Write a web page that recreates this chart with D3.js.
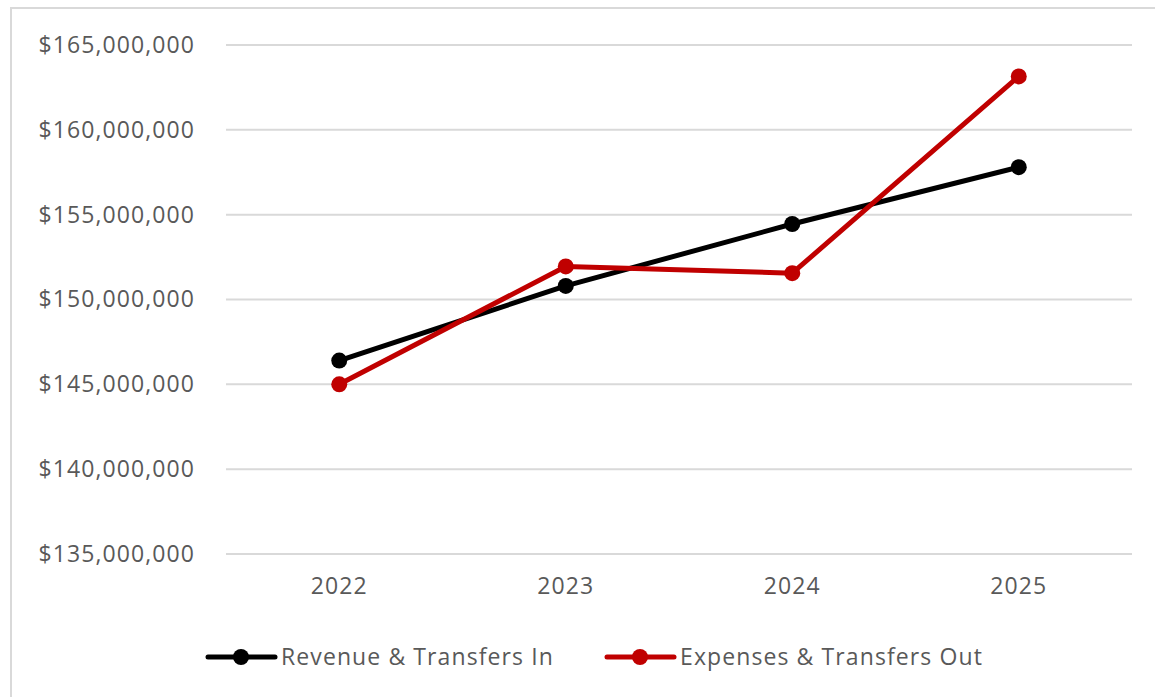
<!DOCTYPE html>
<html>
<head>
<meta charset="utf-8">
<script src="https://cdn.jsdelivr.net/npm/d3@7"></script>
<style>
  body { margin: 0; background: #fff; }
  svg text { font-family: "Open Sans", "Liberation Sans", sans-serif; fill: #595959; letter-spacing: 1.1px; }
</style>
</head>
<body>
<svg id="chart" width="1155" height="697"></svg>
<script>
var years = ["2022", "2023", "2024", "2025"];
var revenue = [146400000, 150800000, 154450000, 157800000];
var expenses = [145000000, 151950000, 151550000, 163150000];
var yTicks = [135000000, 140000000, 145000000, 150000000, 155000000, 160000000, 165000000];
var seriesNames = ["Revenue & Transfers In", "Expenses & Transfers Out"];
var seriesColors = ["#000000", "#c00000"];

var svg = d3.select("#chart");
var width = 1155, height = 697;

// chart frame
svg.append("rect")
  .attr("x", 11).attr("y", 8)
  .attr("width", width + 10).attr("height", height + 10)
  .style("fill", "none").style("stroke", "#d9d9d9").style("stroke-width", 2);

var x = d3.scaleBand().domain(years).range([226, 1132]);
var y = d3.scaleLinear().domain([135000000, 165000000]).range([554, 45]);

var fmt = function (d) { return "$" + d3.format(",")(d); };

// gridlines
svg.append("g").selectAll("line").data(yTicks).enter().append("line")
  .attr("x1", 226).attr("x2", 1132)
  .attr("y1", function (d) { return y(d); })
  .attr("y2", function (d) { return y(d); })
  .style("stroke", "#d9d9d9").style("stroke-width", 2);

// y axis labels
var yAxis = d3.axisLeft(y).tickValues(yTicks).tickFormat(fmt).tickSize(0).tickPadding(0);
var yg = svg.append("g").attr("transform", "translate(195,0)").call(yAxis);
yg.select(".domain").remove();
yg.selectAll("text").style("font-size", "23px").style("fill", "#595959");

// x axis labels
var xAxis = d3.axisBottom(x).tickSize(0).tickPadding(0);
var xg = svg.append("g").attr("transform", "translate(0,578)").call(xAxis);
xg.select(".domain").remove();
xg.selectAll("text").style("font-size", "23px").style("fill", "#595959");

var line = d3.line()
  .x(function (d, i) { return x(years[i]) + x.bandwidth() / 2; })
  .y(function (d) { return y(d); });

[revenue, expenses].forEach(function (vals, si) {
  var g = svg.append("g");
  g.append("path").datum(vals)
    .attr("d", line)
    .style("fill", "none")
    .style("stroke", seriesColors[si])
    .style("stroke-width", 5)
    .style("stroke-linejoin", "round");
  g.selectAll("circle").data(vals).enter().append("circle")
    .attr("cx", function (d, i) { return x(years[i]) + x.bandwidth() / 2; })
    .attr("cy", function (d) { return y(d); })
    .attr("r", 8)
    .style("fill", seriesColors[si]);
});

// legend
var legendX = [208, 607];
seriesNames.forEach(function (name, si) {
  var lg = svg.append("g").attr("transform", "translate(" + legendX[si] + ",657)");
  lg.append("line").attr("x1", 0).attr("x2", 67).attr("y1", 0).attr("y2", 0)
    .style("stroke", seriesColors[si]).style("stroke-width", 5).style("stroke-linecap", "round");
  lg.append("circle").attr("cx", 33).attr("cy", 0).attr("r", 8).style("fill", seriesColors[si]);
  lg.append("text").attr("x", 73).attr("y", 0).attr("dy", "0.35em")
    .style("font-size", "23px").text(name);
});
</script>
</body>
</html>
